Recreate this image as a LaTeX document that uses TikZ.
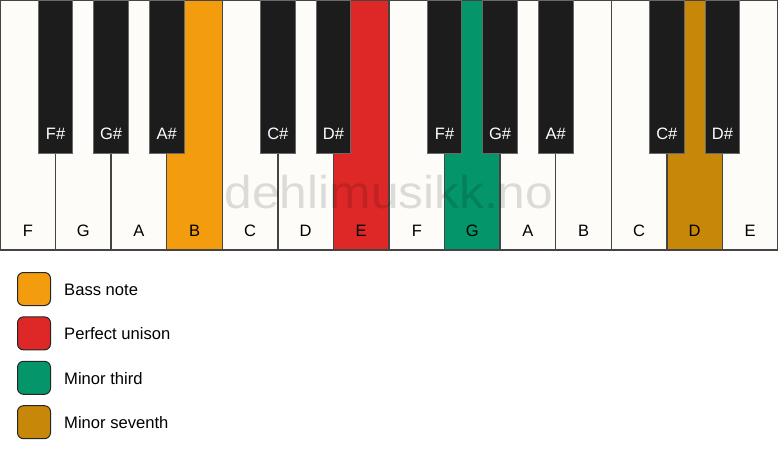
\documentclass[tikz,border=0pt]{standalone}
\usepackage{fontspec}
\setmainfont{Liberation Sans}
\definecolor{keywhite}{HTML}{FDFCF9}
\definecolor{keyblack}{HTML}{1C1C1C}
\definecolor{keyedge}{HTML}{444444}
\definecolor{cbass}{HTML}{F39C0E}
\definecolor{cunison}{HTML}{DE2828}
\definecolor{cthird}{HTML}{04956A}
\definecolor{cseventh}{HTML}{C7880A}
\tikzset{
  whitekey/.style={draw=keyedge, line width=1.3pt, fill=keywhite, minimum width=55.57pt, minimum height=250pt, inner sep=0pt, outer sep=0pt, anchor=north west},
  blackkey/.style={draw=keyedge!80, line width=0.8pt, fill=keyblack, minimum width=34.5pt, minimum height=153pt, inner sep=0pt, outer sep=0pt, anchor=north},
  wlabel/.style={font=\fontsize{16.5}{18}\selectfont, text=black, anchor=base},
  blabel/.style={font=\fontsize{16.5}{18}\selectfont, text=white, anchor=base},
  legbox/.style={draw=black!85, line width=1pt, rounded corners=6pt, minimum width=33pt, minimum height=33pt, inner sep=0pt, anchor=north west},
  legtext/.style={font=\fontsize{16.6}{18}\selectfont, anchor=west, inner sep=0pt},
}
\begin{document}
\begin{tikzpicture}[x=1pt,y=-1pt]
\useasboundingbox (0,0) rectangle (778,461);
\fill[white] (0,0) rectangle (778,461);
% white keys
\foreach \n/\lab/\col [count=\i from 0] in {w1/F/keywhite,w2/G/keywhite,w3/A/keywhite,w4/B/cbass,w5/C/keywhite,w6/D/keywhite,w7/E/cunison,w8/F/keywhite,w9/G/cthird,w10/A/keywhite,w11/B/keywhite,w12/C/keywhite,w13/D/cseventh,w14/E/keywhite}{
  \node[whitekey, fill=\col] (\n) at (\i*55.57,0) {};
  \node[wlabel] (\n l) at (\i*55.57+27.8,236) {\lab};
}
% watermark
\node[font=\fontsize{46}{50}\selectfont, text=black, opacity=0.13, anchor=base, inner sep=0pt] (wm) at (389,208) {\scalebox{1.08}[1]{dehlimusikk.no}};
% black keys
\foreach \n/\lab/\i in {b1/F\#/1,b2/G\#/2,b3/A\#/3,b4/C\#/5,b5/D\#/6,b6/F\#/8,b7/G\#/9,b8/A\#/10,b9/C\#/12,b10/D\#/13}{
  \node[blackkey] (\n) at (\i*55.57,0) {};
  \node[blabel] (\n l) at (\i*55.57,139) {\lab};
}
% legend
\foreach \n/\col/\txt/\y in {l1/cbass/Bass note/272,l2/cunison/Perfect unison/316.4,l3/cthird/Minor third/360.8,l4/cseventh/Minor seventh/405.2}{
  \node[legbox, fill=\col] (\n) at (17,\y) {};
  \node[legtext] (\n t) at (64,\y+17.5) {\txt};
}
\end{tikzpicture}
\end{document}
